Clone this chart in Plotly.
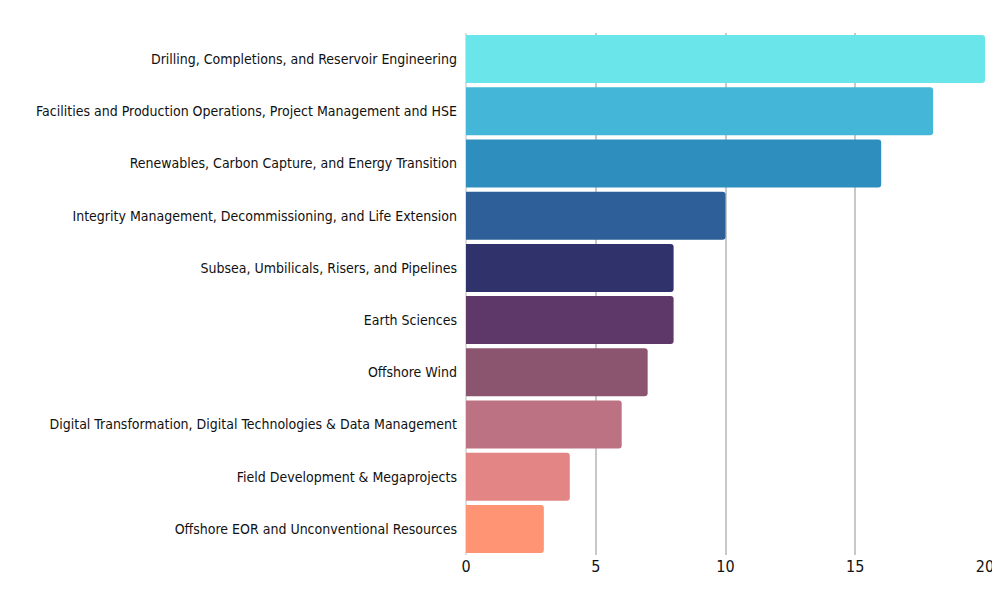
import plotly.graph_objects as go

categories = ["Drilling, Completions, and Reservoir Engineering",
"Facilities and Production Operations, Project Management and HSE",
"Renewables, Carbon Capture, and Energy Transition",
"Integrity Management, Decommissioning, and Life Extension",
"Subsea, Umbilicals, Risers, and Pipelines",
"Earth Sciences",
"Offshore Wind",
"Digital Transformation, Digital Technologies & Data Management",
"Field Development & Megaprojects",
"Offshore EOR and Unconventional Resources"]
values = [20, 18, 16, 10, 8, 8, 7, 6, 4, 3]
colors = ["#6ae5ea", "#44b6d8", "#2e8fbf", "#2e5f99", "#30336b", "#5e3868",
          "#8b546f", "#bc7282", "#e48585", "#ff9474"]

fig = go.Figure(go.Bar(x=values, y=categories, orientation="h",
                       marker=dict(color=colors, line=dict(width=0), cornerradius=3)))
fig.update_layout(
    width=1000, height=600, paper_bgcolor="white", plot_bgcolor="white",
    margin=dict(l=458, r=23, t=25, b=53), bargap=0.08, showlegend=False,
    font=dict(family="Liberation Sans Narrow, DejaVu Sans Condensed, sans-serif", size=14, color="#111"),
)
fig.update_xaxes(range=[0, 20], tickvals=[0, 5, 10, 15, 20], showgrid=True, gridcolor="#c8c8c8",
                 gridwidth=2, zeroline=True, zerolinecolor="#dddddd", ticks="", automargin=False,
                 tickfont=dict(size=16))
fig.update_yaxes(autorange="reversed", ticks="", ticksuffix="  ", automargin=False)
fig.write_html("out.html")
